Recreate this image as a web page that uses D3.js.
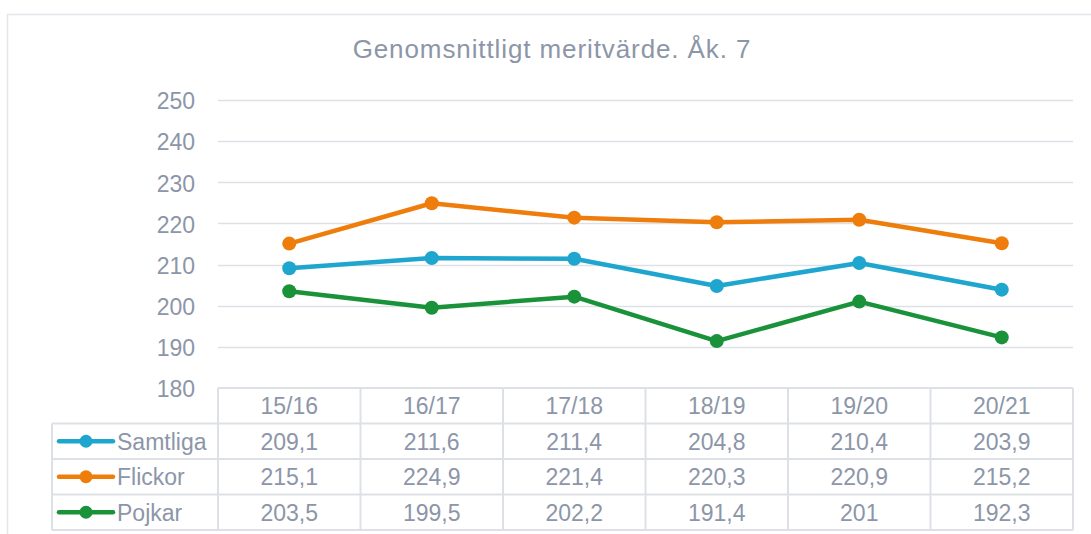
<!DOCTYPE html>
<html lang="sv">
  <head>
    <meta charset="utf-8">
    <title>Genomsnittligt meritvärde</title>
    <script src="https://cdn.jsdelivr.net/npm/d3@7"></script>
    <style>
      body { margin: 0; background: #fff; }
      svg text { font-family: "Liberation Sans", Arial, sans-serif; fill: #8c96a8; }
    </style>
  </head>
  <body>
    <script>
      // Data
      var years = ["15/16", "16/17", "17/18", "18/19", "19/20", "20/21"];
      var seriesNames = ["Samtliga", "Flickor", "Pojkar"];
      var samtliga = [209.1, 211.6, 211.4, 204.8, 210.4, 203.9];
      var flickor = [215.1, 224.9, 221.4, 220.3, 220.9, 215.2];
      var pojkar = [203.5, 199.5, 202.2, 191.4, 201, 192.3];
      var yTicks = [180, 190, 200, 210, 220, 230, 240, 250];

      var colors = ["#1fa6cf", "#ee7d0b", "#19923a"];
      var series = [samtliga, flickor, pojkar];

      var W = 1091, H = 534;
      var plot = {left: 218, right: 1073, top: 100, bottom: 388};
      var rowH = 35.5;
      var gridColor = "#dde1e6";
      var fs = "23px";

      var svg = d3.select("body").append("svg")
                  .attr("width", W)
                  .attr("height", H);

      // outer frame
      svg.append("path")
        .attr("d", "M7.5," + H + " V14.5 H" + W)
        .attr("fill", "none")
        .attr("stroke", "#e3e6ea")
        .attr("stroke-width", 1.5);

      // title
      svg.append("text")
        .attr("x", 552)
        .attr("y", 58)
        .attr("text-anchor", "middle")
        .attr("font-size", "26px")
        .attr("letter-spacing", "0.9px")
        .text("Genomsnittligt meritvärde. Åk. 7");

      var x = d3.scaleBand()
                .domain(years)
                .range([plot.left, plot.right]);
      var y = d3.scaleLinear()
                .domain([180, 250])
                .range([plot.bottom, plot.top]);

      // gridlines
      svg.append("g").selectAll("line")
        .data(yTicks.slice(1))
        .enter().append("line")
        .attr("x1", plot.left)
        .attr("x2", plot.right)
        .attr("y1", function(d) { return Math.round(y(d)) + 0.5; })
        .attr("y2", function(d) { return Math.round(y(d)) + 0.5; })
        .attr("stroke", gridColor)
        .attr("stroke-width", 1.5);

      // y axis labels
      var yAxis = d3.axisLeft(y).tickValues(yTicks).tickSize(0).tickPadding(0);
      var yg = svg.append("g")
        .attr("transform", "translate(195,0)")
        .call(yAxis);
      yg.select(".domain").remove();
      yg.selectAll("text")
        .attr("font-size", fs)
        .attr("fill", "#8c96a8")
        .attr("font-family", "Liberation Sans, Arial, sans-serif")
        .attr("dy", "0.38em");

      // lines + markers
      var line = d3.line()
        .x(function(d, i) { return x(years[i]) + x.bandwidth() / 2; })
        .y(function(d) { return y(d); });

      series.forEach(function(s, k) {
        svg.append("path")
          .datum(s)
          .attr("d", line)
          .attr("fill", "none")
          .attr("stroke", colors[k])
          .attr("stroke-width", 4.5)
          .attr("stroke-linejoin", "round");
        svg.append("g").selectAll("circle")
          .data(s)
          .enter().append("circle")
          .attr("cx", function(d, i) { return x(years[i]) + x.bandwidth() / 2; })
          .attr("cy", function(d) { return y(d); })
          .attr("r", 7)
          .attr("fill", colors[k]);
      });

      // data table
      var table = svg.append("g");
      var tableLeft = 52;
      var tTop = plot.bottom;
      var tBottom = tTop + rowH * 4;

      // horizontal lines
      for (var r = 0; r <= 4; r++) {
        var yy = tTop + r * rowH;
        table.append("line")
          .attr("x1", r === 0 ? plot.left : tableLeft)
          .attr("x2", plot.right)
          .attr("y1", yy).attr("y2", yy)
          .attr("stroke", gridColor).attr("stroke-width", 2);
      }
      // vertical lines
      table.append("line")
        .attr("x1", tableLeft).attr("x2", tableLeft)
        .attr("y1", tTop + rowH).attr("y2", tBottom)
        .attr("stroke", gridColor).attr("stroke-width", 2);
      years.forEach(function(yr) {
        table.append("line")
          .attr("x1", x(yr)).attr("x2", x(yr))
          .attr("y1", tTop).attr("y2", tBottom)
          .attr("stroke", gridColor).attr("stroke-width", 2);
      });
      table.append("line")
        .attr("x1", plot.right).attr("x2", plot.right)
        .attr("y1", tTop).attr("y2", tBottom)
        .attr("stroke", gridColor).attr("stroke-width", 2);

      // header
      table.selectAll("text.hdr")
        .data(years)
        .enter().append("text")
        .attr("class", "hdr")
        .attr("x", function(d) { return x(d) + x.bandwidth() / 2; })
        .attr("y", tTop + rowH / 2)
        .attr("dy", "0.36em")
        .attr("text-anchor", "middle")
        .attr("font-size", fs)
        .text(function(d) { return d; });

      var fmt = function(v) { return String(v).replace(".", ","); };

      series.forEach(function(s, k) {
        var cy = tTop + rowH * (k + 1) + rowH / 2;
        // legend key
        table.append("line")
          .attr("x1", 59).attr("x2", 113)
          .attr("y1", cy).attr("y2", cy)
          .attr("stroke", colors[k]).attr("stroke-width", 4.5)
          .attr("stroke-linecap", "round");
        table.append("circle")
          .attr("cx", 86).attr("cy", cy).attr("r", 6.5)
          .attr("fill", colors[k]);
        table.append("text")
          .attr("x", 117).attr("y", cy).attr("dy", "0.36em")
          .attr("font-size", fs)
          .text(seriesNames[k]);
        table.selectAll("text.v" + k)
          .data(s)
          .enter().append("text")
          .attr("class", "v" + k)
          .attr("x", function(d, i) { return x(years[i]) + x.bandwidth() / 2; })
          .attr("y", cy)
          .attr("dy", "0.36em")
          .attr("text-anchor", "middle")
          .attr("font-size", fs)
          .text(fmt);
      });
    </script>
  </body>
</html>
